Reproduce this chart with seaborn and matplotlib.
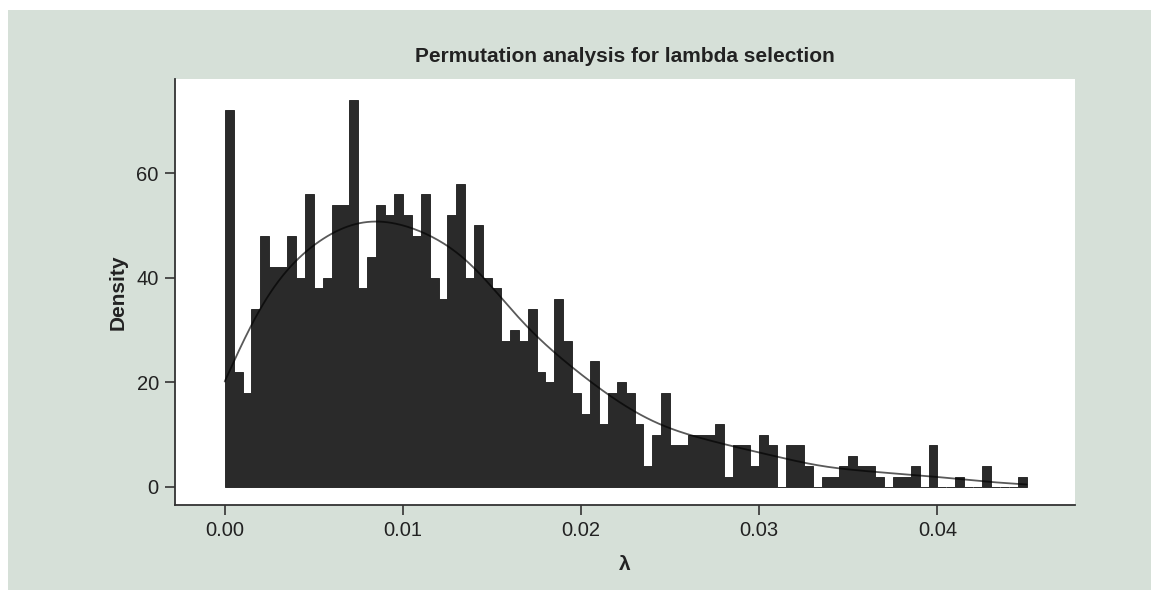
import numpy as np
import pandas as pd
import seaborn as sns
import matplotlib
matplotlib.use("Agg")
import matplotlib.pyplot as plt
from matplotlib.patches import Rectangle

# histogram heights: 90 bins of width 0.0005 on [0, 0.045]
bin_width = 0.0005
n_bins = 90
density = [72, 22, 18, 34, 48, 42, 42, 48, 40, 56, 38, 40, 54, 54, 74,
           38, 44, 54, 52, 56, 52, 48, 56, 40, 36, 52, 58, 40, 50,
           40, 38, 28, 30, 28, 34, 22, 20, 36, 28, 18, 14, 24, 12,
           18, 20, 18, 12, 4, 10, 18, 8, 8, 10, 10, 10, 12, 2,
           8, 8, 4, 10, 8, 0, 8, 8, 4, 0, 2, 2, 4, 6, 4, 4,
           2, 0, 2, 2, 4, 0, 8, 0, 0, 2, 0, 0, 4, 0, 0, 0, 2]
x_ticks = [0.00, 0.01, 0.02, 0.03, 0.04]
y_ticks = [0, 20, 40, 60]
title = "Permutation analysis for lambda selection"

centers = (np.arange(n_bins) + 0.5) * bin_width
df = pd.DataFrame({"lambda": centers, "density": density})

sns.set_style("white")
plt.rcParams["font.family"] = ["Liberation Sans", "DejaVu Sans"]

W, H = 1159, 600
fig = plt.figure(figsize=(W / 100, H / 100), dpi=100, facecolor="white")
# light green panel behind the plot
fig.patches.append(Rectangle((8 / W, 10 / H), (W - 16) / W, (H - 20) / H,
                             transform=fig.transFigure, facecolor="#d6e0d8",
                             edgecolor="none", zorder=-5))

ax = fig.add_axes([175 / W, 1 - 504.5 / H, 900 / W, (504.5 - 79) / H])
ax.set_zorder(2)
ax.set_facecolor("white")

sns.histplot(data=df, x="lambda", weights="density", binwidth=bin_width,
             binrange=(0, n_bins * bin_width), stat="count",
             color="#2a2a2a", edgecolor="#2a2a2a", linewidth=0.7, alpha=1, ax=ax)
sns.kdeplot(data=df, x="lambda", weights="density", bw_method=0.25,
            clip=(0, n_bins * bin_width), cut=3, gridsize=400, color="black",
            linewidth=1.3, alpha=0.65, ax=ax)

ax.set_xlim(-0.00279, 0.04772)
ax.set_ylim(-3.35, 78.0)
ax.set_xticks(x_ticks)
ax.set_xticklabels([f"{t:.2f}" for t in x_ticks])
ax.set_yticks(y_ticks)
ax.set_xlabel("")
ax.set_ylabel("")
ax.tick_params(axis="both", direction="out", length=7.2, width=1.2,
               color="#333333", labelsize=14.5, labelcolor="#222222", pad=4.5,
               bottom=True, left=True)
for side in ["top", "right"]:
    ax.spines[side].set_visible(False)
for side in ["left", "bottom"]:
    ax.spines[side].set_color("#333333")
    ax.spines[side].set_linewidth(1.3)

fig.text(625 / W, 1 - 57 / H, title, ha="center", va="center",
         fontsize=15, fontweight="bold", color="#222222")
fig.text(118 / W, 1 - 292 / H, "Density", ha="center", va="center",
         rotation=90, fontsize=15, fontweight="bold", color="#222222")
fig.text(625 / W, 1 - 565 / H, "λ", ha="center", va="center",
         fontsize=15, fontweight="bold", color="#222222")

fig.savefig("out.png", dpi=100, facecolor="white")
